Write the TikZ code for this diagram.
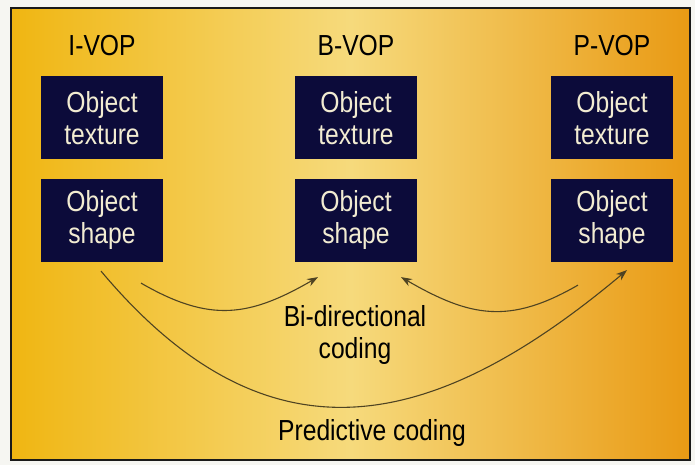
\documentclass[tikz,border=0pt]{standalone}
\usepackage{fontspec}
\setmainfont{Liberation Sans}[FakeStretch=0.85]
\usetikzlibrary{positioning,arrows.meta}
\definecolor{navybox}{HTML}{0C0B3A}
\definecolor{boxtext}{HTML}{F2ECD2}
\definecolor{arcbrown}{HTML}{4E4322}
\definecolor{yellowleft}{HTML}{F0B612}
\definecolor{yellowmid}{HTML}{F6DA7C}
\definecolor{yellowright}{HTML}{E99A14}
\definecolor{framedark}{HTML}{1A1A1A}
\definecolor{pagewhite}{HTML}{F6F6F2}

\begin{document}
\begin{tikzpicture}[x=1pt,y=1pt,font=\fontsize{29}{32}\selectfont]
            \tikzstyle{vop box}=[fill=navybox,text=boxtext,minimum width=122,minimum height=83,align=center,inner sep=0]
            \tikzstyle{vop label}=[text=black,inner sep=0]
            \tikzstyle{coding arc}=[draw=arcbrown,line width=1.1pt,-{Stealth[length=11pt,width=8pt]}]
            \useasboundingbox (0,0) rectangle (695,465);
            \fill[pagewhite] (0,0) rectangle (695,465);
            \shade[left color=yellowleft,right color=yellowright,middle color=yellowmid] (11,5) rectangle (690,457);
            \draw[framedark,line width=2pt] (11,5) rectangle (690,457);
            % the three VOPs
            \node[vop box] (itex) at (102,347) {Object\\texture};
            \node[vop box,below=19 of itex] (ishape) {Object\\shape};
            \node[vop label,above=20 of itex] (ilabel) {I-VOP};
            \node[vop box] (btex) at (356,347) {Object\\texture};
            \node[vop box,below=19 of btex] (bshape) {Object\\shape};
            \node[vop label,above=20 of btex] (blabel) {B-VOP};
            \node[vop box] (ptex) at (612,347) {Object\\texture};
            \node[vop box,below=19 of ptex] (pshape) {Object\\shape};
            \node[vop label,above=20 of ptex] (plabel) {P-VOP};
            % coding arcs
            \draw[coding arc] ([xshift=39pt,yshift=-21pt]ishape.south) to[out=-30,in=-150,looseness=1.15] ([xshift=-38pt,yshift=-15pt]bshape.south);
            \draw[coding arc] ([xshift=-34pt,yshift=-23pt]pshape.south) to[out=210,in=-30,looseness=1.15] ([xshift=45pt,yshift=-15pt]bshape.south);
            \draw[coding arc] ([xshift=-1pt,yshift=-9pt]ishape.south) to[out=-50,in=-140,looseness=1.25] ([xshift=15pt,yshift=-8pt]pshape.south);
            \node[align=center] (bidir) at (355,130) {Bi-directional\\coding};
            \node (predict) at (372,32) {Predictive coding};
\end{tikzpicture}
\end{document}
